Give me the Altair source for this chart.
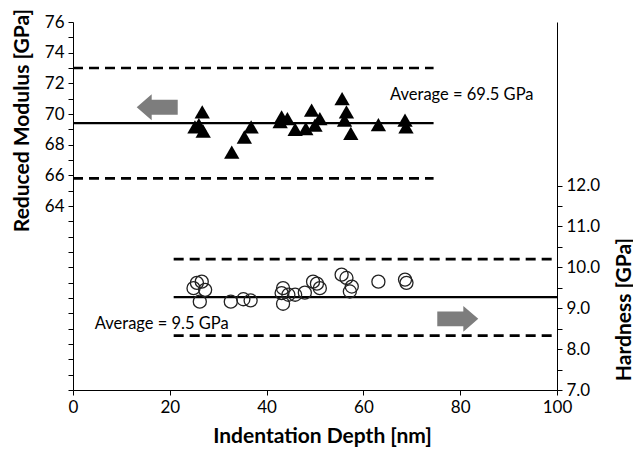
import altair as alt
import pandas as pd

# ---- data ----
mod_depth = [26.7, 25.2, 26.9, 26.0, 32.8, 35.4, 36.8, 43.1, 44.3, 42.8, 45.9, 48.1,
             49.3, 51.0, 50.0, 55.6, 56.5, 56.1, 57.4, 63.1, 68.6, 68.8]
modulus = [70.14, 69.16, 68.88, 69.31, 67.52, 68.5, 69.16, 69.81, 69.7, 69.5, 68.99, 69.05,
           70.25, 69.7, 69.27, 71.01, 70.14, 69.6, 68.73, 69.31, 69.6, 69.16]

hard_depth = [25.6, 26.6, 24.9, 27.3, 26.2, 32.6, 35.2, 36.7, 43.4, 43.1, 44.5, 43.4,
              45.9, 47.9, 49.6, 51.0, 50.4, 55.5, 56.5, 57.6, 57.2, 63.1, 68.6, 68.9]
hardness = [9.62, 9.65, 9.49, 9.45, 9.16, 9.16, 9.22, 9.19, 9.49, 9.37, 9.33, 9.11,
            9.33, 9.38, 9.65, 9.49, 9.6, 9.82, 9.74, 9.53, 9.41, 9.65, 9.70, 9.62]

mod_avg = [69.4]
mod_bounds = [73.0, 65.8]
mod_x_from, mod_x_to = 0, 74.5

hard_avg = [9.27]
hard_bounds = [10.2, 8.33]
hard_x_from, hard_x_to = 20.8, 100

mod_label = ["Average = 69.5 GPa"]
mod_label_pos = [65.5, 71.23]
hard_label = ["Average = 9.5 GPa"]
hard_label_pos = [4.5, 8.62]

left_arrow_pos = [17.4, 70.44]
right_arrow_pos = [79.5, 8.74]

FONT = "Lato"

# ---- tables ----
df_mod = pd.DataFrame({"depth": mod_depth, "modulus": modulus})
df_hard = pd.DataFrame({"depth": hard_depth, "hardness": hardness})
df_mod_avg = pd.DataFrame({"x0": [mod_x_from], "x1": [mod_x_to], "modulus": mod_avg})
df_mod_b = pd.DataFrame({"x0": [mod_x_from] * 2, "x1": [mod_x_to] * 2, "modulus": mod_bounds})
df_hard_avg = pd.DataFrame({"x0": [hard_x_from], "x1": [hard_x_to], "hardness": hard_avg})
df_hard_b = pd.DataFrame({"x0": [hard_x_from] * 2, "x1": [hard_x_to] * 2, "hardness": hard_bounds})
df_mod_txt = pd.DataFrame({"depth": [mod_label_pos[0]], "modulus": [mod_label_pos[1]], "t": mod_label})
df_hard_txt = pd.DataFrame({"depth": [hard_label_pos[0]], "hardness": [hard_label_pos[1]], "t": hard_label})
df_la = pd.DataFrame({"depth": [left_arrow_pos[0]], "modulus": [left_arrow_pos[1]]})
df_ra = pd.DataFrame({"depth": [right_arrow_pos[0]], "hardness": [right_arrow_pos[1]]})

xscale = alt.Scale(domain=[0, 100], nice=False, zero=False)
xaxis = alt.Axis(values=[0, 20, 40, 60, 80, 100], title="Indentation Depth [nm]",
                 grid=False, tickSize=5, domainColor="black", tickColor="black",
                 labelFont=FONT, labelFontSize=17, labelColor="black", labelPadding=4,
                 labelFlush=False,
                 titleFont=FONT, titleFontSize=21, titleFontWeight="bold", titleColor="black",
                 titlePadding=10, titleX=249)

lscale = alt.Scale(domain=[52, 76], nice=False, zero=False)
laxis = alt.Axis(values=list(range(52, 77)),
                 labelExpr="datum.value >= 64 && datum.value % 2 == 0 ? datum.label : ''",
                 title="Reduced Modulus [GPa]", grid=False, tickSize=5,
                 domainColor="black", tickColor="black",
                 labelFont=FONT, labelFontSize=17, labelColor="black", labelPadding=4,
                 titleFont=FONT, titleFontSize=21, titleFontWeight="bold", titleColor="black",
                 titleX=-51, titleY=98, titleAlign="center", titleBaseline="middle", titleAngle=270)

rscale = alt.Scale(domain=[7, 16], nice=False, zero=False)
raxis = alt.Axis(values=[7, 7.5, 8, 8.5, 9, 9.5, 10, 10.5, 11, 11.5, 12],
                 labelExpr="datum.value % 1 == 0 ? format(datum.value, '.1f') : ''",
                 title="Hardness [GPa]", grid=False, tickSize=5, orient="right",
                 domainColor="black", tickColor="black",
                 labelFont=FONT, labelFontSize=17, labelColor="black", labelPadding=4,
                 titleFont=FONT, titleFontSize=21, titleFontWeight="bold", titleColor="black",
                 titleX=67, titleY=287, titleAlign="center", titleBaseline="middle", titleAngle=270)

X = alt.X("depth:Q", scale=xscale, axis=xaxis)
YL = alt.Y("modulus:Q", scale=lscale, axis=laxis)
YR = alt.Y("hardness:Q", scale=rscale, axis=raxis)

left_arrow = "M -1 0 L -0.27 -0.63 L -0.27 -0.36 L 1 -0.36 L 1 0.36 L -0.27 0.36 L -0.27 0.63 Z"
right_arrow = "M 1 0 L 0.27 -0.63 L 0.27 -0.36 L -1 -0.36 L -1 0.36 L 0.27 0.36 L 0.27 0.63 Z"

left = alt.layer(
    alt.Chart(df_mod_avg).mark_rule(color="black", strokeWidth=2.2).encode(
        x=alt.X("x0:Q", scale=xscale, axis=xaxis), x2="x1:Q", y=YL),
    alt.Chart(df_mod_b).mark_rule(color="black", strokeWidth=2.6, strokeDash=[10, 6]).encode(
        x=alt.X("x0:Q", scale=xscale, axis=xaxis), x2="x1:Q", y=YL),
    alt.Chart(df_mod).mark_point(shape="triangle-up", filled=True, color="black",
                                 size=235, opacity=1).encode(x=X, y=YL),
    alt.Chart(df_mod_txt).mark_text(align="left", baseline="middle", font=FONT,
                                    fontSize=16.5, color="black").encode(x=X, y=YL, text="t:N"),
    alt.Chart(df_la).mark_point(shape=left_arrow, filled=True, color="#7d7d7d",
                                size=1681, opacity=1).encode(x=X, y=YL),
)

right = alt.layer(
    alt.Chart(df_hard_avg).mark_rule(color="black", strokeWidth=2.2).encode(
        x=alt.X("x0:Q", scale=xscale, axis=xaxis), x2="x1:Q", y=YR),
    alt.Chart(df_hard_b).mark_rule(color="black", strokeWidth=2.6, strokeDash=[10, 6]).encode(
        x=alt.X("x0:Q", scale=xscale, axis=xaxis), x2="x1:Q", y=YR),
    alt.Chart(df_hard).mark_point(shape="circle", filled=False, color="#222222", fill="white",
                                  fillOpacity=0.0, strokeWidth=1.3, size=170, opacity=1).encode(x=X, y=YR),
    alt.Chart(df_hard_txt).mark_text(align="left", baseline="middle", font=FONT,
                                     fontSize=16.5, color="black").encode(x=X, y=YR, text="t:N"),
    alt.Chart(df_ra).mark_point(shape=right_arrow, filled=True, color="#7d7d7d",
                                size=1681, opacity=1).encode(x=X, y=YR),
)

chart = alt.layer(left, right).resolve_scale(y="independent").properties(
    width=484, height=368,
    padding={"left": 73, "top": 22, "right": 76, "bottom": 59},
    autosize=alt.AutoSizeParams(type="none"),
    background="white",
).configure_view(stroke=None)

chart.save("out.html", embed_options={"renderer": "svg", "actions": False})
